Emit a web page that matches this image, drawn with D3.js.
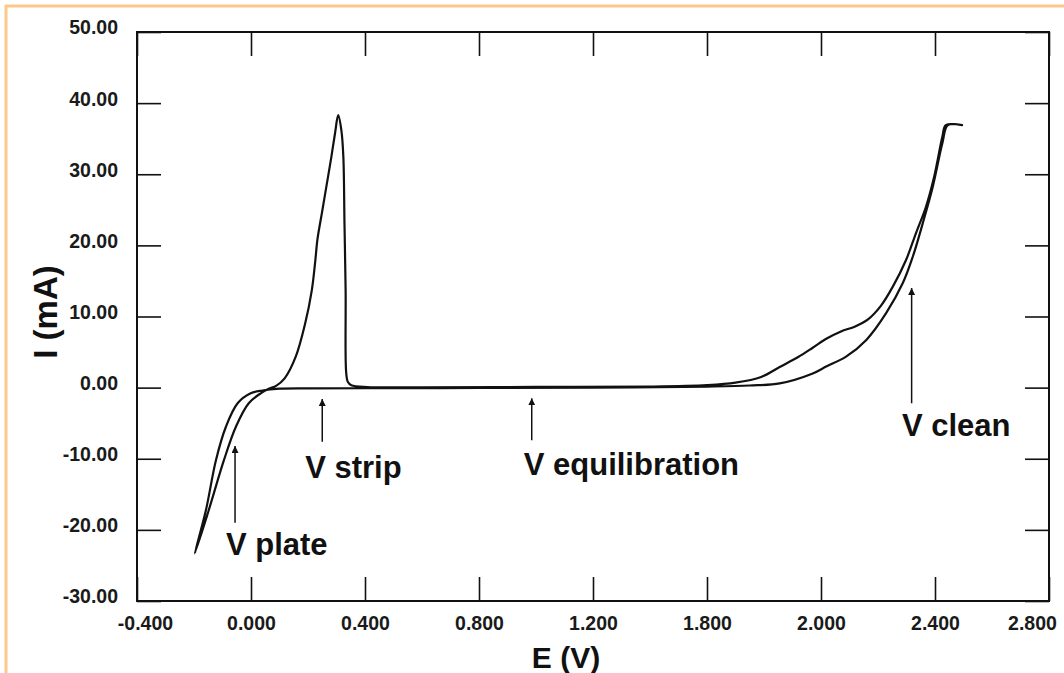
<!DOCTYPE html>
<html>
<head>
<meta charset="utf-8">
<script src="https://cdn.jsdelivr.net/npm/d3@7"></script>
<style>
    body { margin: 0; background: #fff; }
    svg { display: block; font-family: "Liberation Sans", Arial, sans-serif; font-weight: bold; }
</style>
</head>
<body>
<svg id="chart" width="1064" height="673"></svg>
<script>
// axis ticks (the original figure labels the 1.6 V tick as "1.800")
const xTicks = [-0.4, 0.0, 0.4, 0.8, 1.2, 1.6, 2.0, 2.4, 2.8];
const xTickLabels = ["-0.400", "0.000", "0.400", "0.800", "1.200", "1.800", "2.000", "2.400", "2.800"];
const yTicks = [-30, -20, -10, 0, 10, 20, 30, 40, 50];
const yTickLabels = ["-30.00", "-20.00", "-10.00", "0.00", "10.00", "20.00", "30.00", "40.00", "50.00"];

// one closed voltammogram loop: E (V), I (mA)
const scanE = [
    -0.197, -0.148, -0.095, -0.053, -0.008, 0.034, 0.062,
    0.088, 0.118, 0.157, 0.190, 0.213, 0.226, 0.233, 0.249, 0.265, 0.281, 0.295, 0.306,
    0.317, 0.324, 0.328, 0.332, 0.334, 0.340, 0.352, 0.408,
    0.600, 1.000, 1.400, 1.600, 1.700, 1.790, 1.855, 1.920, 1.971, 2.020, 2.070, 2.120,
    2.165, 2.210, 2.252, 2.298, 2.333, 2.368, 2.397, 2.426, 2.438, 2.495,
    2.445, 2.426, 2.392, 2.357, 2.322, 2.287, 2.229, 2.159, 2.088, 2.020, 1.971,
    1.855, 1.750, 1.600, 1.200, 0.800, 0.400, 0.200, 0.100,
    0.040, -0.001, -0.047, -0.088, -0.123, -0.158
];
const scanI = [
    -23.3, -17.2, -10.2, -5.5, -2.2, -0.8, -0.15,
    0.25, 1.3, 4.35, 9.0, 13.6, 18.0, 20.8, 24.6, 28.4, 32.2, 35.8, 38.3,
    36.2, 32.5, 23.1, 13.7, 2.1, 0.8, 0.35, 0.08,
    0.05, 0.1, 0.15, 0.35, 0.7, 1.5, 2.9, 4.3, 5.6, 6.9, 7.9, 8.6,
    9.6, 11.5, 14.2, 17.9, 21.7, 25.4, 29.65, 35.3, 36.9, 36.9,
    36.9, 34.4, 28.2, 23.1, 18.4, 14.7, 10.5, 6.7, 4.35, 3.0, 2.0,
    0.6, 0.3, 0.15, 0.0, -0.05, -0.08, -0.1, -0.15,
    -0.4, -0.8, -2.2, -5.5, -10.2, -17.2
];

// annotations: arrow at E from baseI up to tipI, label anchored at (labelE, labelI)
const noteNames = ["V plate", "V strip", "V equilibration", "V clean"];
const noteArrowE = [-0.056, 0.250, 0.985, 2.318];
const noteTipI = [-8.2, -1.6, -1.5, 14.0];
const noteBaseI = [-19.0, -7.6, -7.4, -2.2];
const noteLabelE = [-0.088, 0.190, 0.957, 2.284];
const noteLabelI = [-23.5, -12.7, -12.3, -6.8];

const svg = d3.select("#chart");

// orange page border seen in the screenshot
svg.append("path")
    .attr("d", "M6,673 V6 H1064")
    .attr("fill", "none")
    .attr("stroke", "#fbc98a")
    .attr("stroke-width", 3);

const x = d3.scaleLinear().domain([-0.4, 2.8]).range([137, 1049]);
const y = d3.scaleLinear().domain([-30, 50]).range([601, 32]);

const tick = 24;

// bottom axis with labels
const gxb = svg.append("g")
    .attr("transform", "translate(0," + y(-30) + ")")
    .call(d3.axisBottom(x).tickValues(xTicks).tickSizeInner(-tick).tickSizeOuter(0).tickPadding(15)
        .tickFormat(function (d, i) { return xTickLabels[i]; }));
gxb.selectAll("text")
    .attr("dx", function (d, i) {
        if (i === 0) { return 8; }
        if (i === xTicks.length - 1) { return -17; }
        return 0;
    });

// top axis, ticks only
svg.append("g")
    .attr("transform", "translate(0," + y(50) + ")")
    .call(d3.axisTop(x).tickValues(xTicks).tickSizeInner(-tick).tickSizeOuter(0).tickFormat(""));

// left axis with labels
svg.append("g")
    .attr("transform", "translate(" + x(-0.4) + ",0)")
    .call(d3.axisLeft(y).tickValues(yTicks).tickSizeInner(-tick).tickSizeOuter(0).tickPadding(19)
        .tickFormat(function (d, i) { return yTickLabels[i]; }))
    .selectAll("text").attr("dy", "0.1em");

// right axis, ticks only
svg.append("g")
    .attr("transform", "translate(" + x(2.8) + ",0)")
    .call(d3.axisRight(y).tickValues(yTicks).tickSizeInner(-tick).tickSizeOuter(0).tickFormat(""));

svg.selectAll(".domain").remove();
svg.selectAll(".tick line").attr("stroke", "#111").attr("stroke-width", 1.6);
svg.selectAll(".tick text")
    .attr("fill", "#1a1a1a")
    .style("font-size", "19.5px")
    .style("font-family", "'Liberation Sans', Arial, sans-serif")
    .style("font-weight", "bold");

// frame
svg.append("rect")
    .attr("x", x(-0.4))
    .attr("y", y(50))
    .attr("width", x(2.8) - x(-0.4))
    .attr("height", y(-30) - y(50))
    .attr("fill", "none")
    .attr("stroke", "#111")
    .attr("stroke-width", 2);

// axis titles
svg.append("text")
    .attr("x", 566)
    .attr("y", 668)
    .attr("text-anchor", "middle")
    .style("font-size", "30px")
    .attr("fill", "#111")
    .text("E (V)");

svg.append("text")
    .attr("transform", "translate(57,312) rotate(-90)")
    .attr("text-anchor", "middle")
    .style("font-size", "33px")
    .attr("fill", "#111")
    .text("I (mA)");

// voltammogram
const loop = scanE.map(function (e, i) { return [e, scanI[i]]; });

svg.append("path")
    .datum(loop)
    .attr("d", d3.line()
        .x(function (d) { return x(d[0]); })
        .y(function (d) { return y(d[1]); })
        .curve(d3.curveCatmullRomClosed.alpha(0.5)))
    .attr("fill", "none")
    .attr("stroke", "#111")
    .attr("stroke-width", 2.2)
    .attr("stroke-linejoin", "round");

// arrows
svg.append("defs").append("marker")
    .attr("id", "head")
    .attr("viewBox", "0 0 10 10")
    .attr("refX", 10)
    .attr("refY", 5)
    .attr("markerWidth", 7)
    .attr("markerHeight", 7)
    .attr("markerUnits", "userSpaceOnUse")
    .attr("orient", "auto")
    .append("path")
    .attr("d", "M0,0 L10,5 L0,10 Z")
    .attr("fill", "#111");

svg.selectAll(".note-arrow")
    .data(noteNames).enter()
    .append("line")
    .classed("note-arrow", true)
    .attr("x1", function (d, i) { return x(noteArrowE[i]); })
    .attr("x2", function (d, i) { return x(noteArrowE[i]); })
    .attr("y1", function (d, i) { return y(noteBaseI[i]); })
    .attr("y2", function (d, i) { return y(noteTipI[i]); })
    .attr("stroke", "#111")
    .attr("stroke-width", 1.5)
    .attr("marker-end", "url(#head)");

svg.selectAll(".note-label")
    .data(noteNames).enter()
    .append("text")
    .classed("note-label", true)
    .attr("x", function (d, i) { return x(noteLabelE[i]); })
    .attr("y", function (d, i) { return y(noteLabelI[i]); })
    .style("font-size", "31px")
    .attr("fill", "#111")
    .text(function (d) { return d; });
</script>
</body>
</html>
